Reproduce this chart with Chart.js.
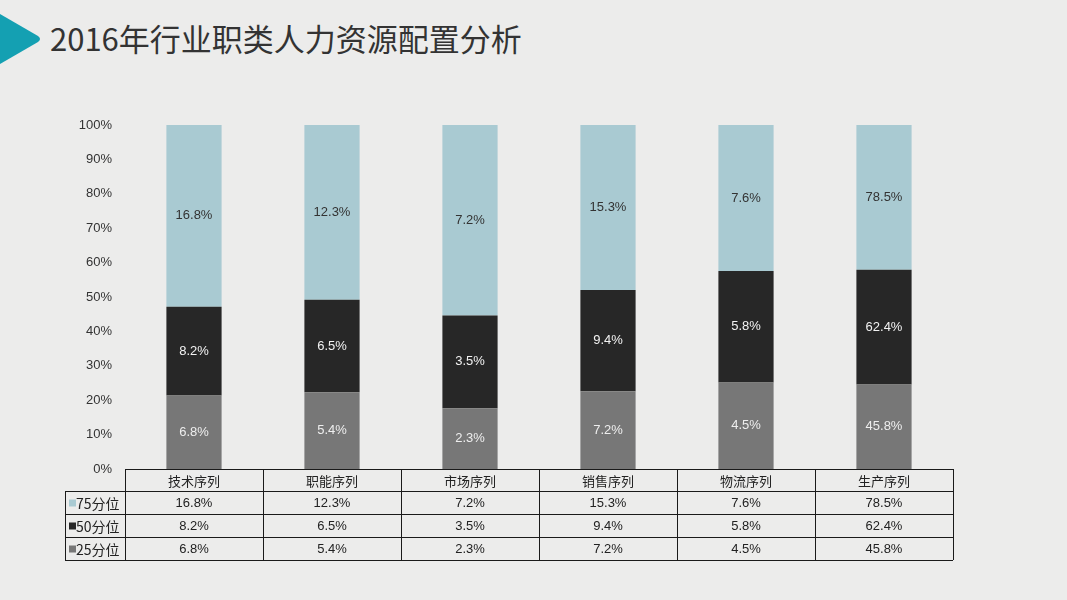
<!DOCTYPE html>
<html>
<head>
<meta charset="utf-8">
<script src="https://cdn.jsdelivr.net/npm/chart.js@4"></script>
<style>
  html, body { margin: 0; padding: 0; }
  body { width: 1067px; height: 600px; background: #ececeb; position: relative; overflow: hidden; }
  #tri { position: absolute; left: 0; top: 0; }
  #title { position: absolute; left: 50px; top: 16px; font: 31px "Noto Sans CJK SC", sans-serif; color: #333; line-height: 44px; white-space: nowrap; }
  #wrap { position: absolute; left: 0; top: 0; width: 1067px; height: 600px; }
</style>
</head>
<body>
<svg id="tri" width="50" height="80"><path d="M0 14 L38 36 Q42 39 38 42 L0 64 Z" fill="#14a0b2"/></svg>
<div id="title">2016年行业职类人力资源配置分析</div>
<div id="wrap"><canvas id="chart"></canvas></div>
<script>
'use strict';

// 数据
const categories = ['技术序列', '职能序列', '市场序列', '销售序列', '物流序列', '生产序列'];
const seriesNames = ['75分位', '50分位', '25分位'];
const p75 = [16.8, 12.3, 7.2, 15.3, 7.6, 78.5];
const p50 = [8.2, 6.5, 3.5, 9.4, 5.8, 62.4];
const p25 = [6.8, 5.4, 2.3, 7.2, 4.5, 45.8];
const yTicks = [0, 10, 20, 30, 40, 50, 60, 70, 80, 90, 100];

const colors = { '75分位': '#a9cad2', '50分位': '#272727', '25分位': '#777777' };
const labelColors = { '75分位': '#333333', '50分位': '#f2f2f2', '25分位': '#eeeeee' };
const rawValues = { '75分位': p75, '50分位': p50, '25分位': p25 };

const FONT = '"Liberation Sans", Arial, "Noto Sans CJK SC", sans-serif';
const CJK = '"Noto Sans CJK SC", sans-serif';

// 百分比堆积
const totals = categories.map((c, i) => p75[i] + p50[i] + p25[i]);
const share = (arr) => arr.map((v, i) => v / totals[i] * 100);

// 柱内数值标签
const barLabels = {
    id: 'barLabels',
    afterDatasetsDraw(chart) {
        const ctx = chart.ctx;
        ctx.save();
        ctx.font = '13px ' + FONT;
        ctx.textAlign = 'center';
        ctx.textBaseline = 'middle';
        chart.data.datasets.forEach((ds, di) => {
            const meta = chart.getDatasetMeta(di);
            meta.data.forEach((bar, i) => {
                const mid = (bar.y + bar.base) / 2;
                ctx.fillStyle = labelColors[ds.label];
                ctx.fillText(rawValues[ds.label][i].toFixed(1) + '%', bar.x, mid);
            });
        });
        ctx.restore();
    }
};

// 底部数据表
const dataTable = {
    id: 'dataTable',
    afterDraw(chart) {
        const ctx = chart.ctx;
        const x = chart.scales.x;
        const area = chart.chartArea;
        const colW = x.getPixelForValue(1) - x.getPixelForValue(0);
        const left = x.getPixelForValue(0) - colW / 2;
        const right = left + colW * categories.length;
        const legendLeft = 65;
        const top = area.bottom;
        const headH = 22, rowH = 23;
        const rows = seriesNames.length;
        const bottom = top + headH + rowH * rows;

        ctx.save();
        ctx.strokeStyle = '#1a1a1a';
        ctx.lineWidth = 1;
        ctx.beginPath();
        // 横线
        ctx.moveTo(left, top + 0.5); ctx.lineTo(right, top + 0.5);
        for (let r = 0; r <= rows; r++) {
            const yy = Math.round(top + headH + rowH * r) + 0.5;
            ctx.moveTo(legendLeft, yy); ctx.lineTo(right, yy);
        }
        // 竖线
        ctx.moveTo(legendLeft + 0.5, top + headH); ctx.lineTo(legendLeft + 0.5, bottom);
        for (let c = 0; c <= categories.length; c++) {
            const xx = Math.round(left + colW * c) + 0.5;
            ctx.moveTo(xx, top); ctx.lineTo(xx, bottom);
        }
        ctx.stroke();

        ctx.textBaseline = 'middle';
        ctx.fillStyle = '#222';
        ctx.textAlign = 'center';
        ctx.font = '13px ' + CJK;
        categories.forEach((c, i) => {
            ctx.fillText(c, x.getPixelForValue(i), top + headH / 2 + 1);
        });
        seriesNames.forEach((name, r) => {
            const cy = top + headH + rowH * r + rowH / 2 + 1;
            ctx.font = '13px ' + FONT;
            rawValues[name].forEach((v, i) => {
                ctx.fillStyle = '#222';
                ctx.textAlign = 'center';
                ctx.fillText(v.toFixed(1) + '%', x.getPixelForValue(i), cy);
            });
            ctx.fillStyle = colors[name];
            ctx.fillRect(legendLeft + 4, cy - 4, 7, 7);
            ctx.fillStyle = '#222';
            ctx.textAlign = 'left';
            ctx.font = '14px ' + CJK;
            ctx.fillText(name, legendLeft + 11, cy);
        });
        ctx.restore();
    }
};

Chart.defaults.font.family = FONT;
Chart.defaults.color = '#333';

new Chart(document.getElementById('chart').getContext('2d'), {
    type: 'bar',
    data: {
        labels: categories,
        datasets: [
            { label: '25分位', data: share(p25), backgroundColor: colors['25分位'] },
            { label: '50分位', data: share(p50), backgroundColor: colors['50分位'] },
            { label: '75分位', data: share(p75), backgroundColor: colors['75分位'] }
        ]
    },
    options: {
        responsive: true,
        maintainAspectRatio: false,
        animation: false,
        layout: { padding: { left: 52, right: 114, top: 125, bottom: 131 } },
        datasets: { bar: { categoryPercentage: 0.4, barPercentage: 1 } },
        plugins: { legend: { display: false }, tooltip: { enabled: false } },
        scales: {
            x: { stacked: true, display: false },
            y: {
                stacked: true,
                min: 0,
                max: 100,
                afterBuildTicks: (s) => { s.ticks = yTicks.map(v => ({ value: v })); },
                afterFit: (s) => { s.width = 73; },
                grid: { display: false, drawTicks: false },
                border: { display: false },
                ticks: { padding: 13, font: { size: 13 }, color: '#333', callback: (v) => v + '%' }
            }
        }
    },
    plugins: [barLabels, dataTable]
});
</script>
</body>
</html>
